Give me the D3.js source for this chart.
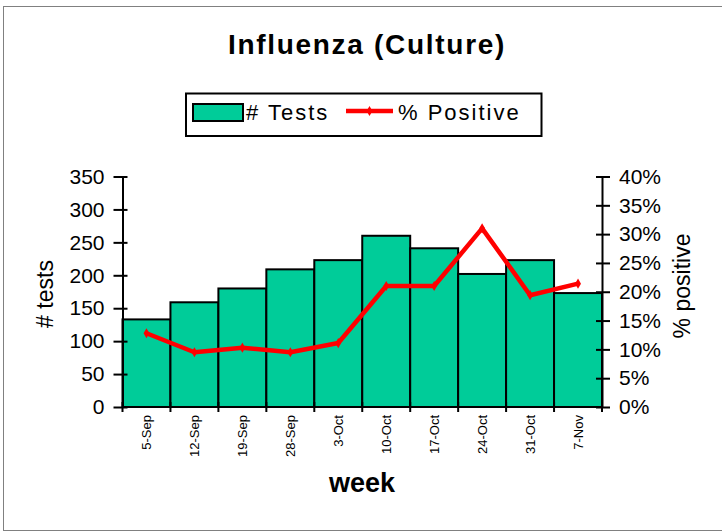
<!DOCTYPE html>
<html>
<head>
<meta charset="utf-8">
<script src="https://cdn.jsdelivr.net/npm/d3@7"></script>
<style>
  body { margin: 0; background: #fff; }
  svg { display: block; font-family: "Liberation Sans", Arial, sans-serif; }
</style>
</head>
<body>
<div id="chart"></div>
<script>
// chart data
let weeks = ["5-Sep", "12-Sep", "19-Sep", "28-Sep", "3-Oct", "10-Oct", "17-Oct", "24-Oct", "31-Oct", "7-Nov"];
let tests = [133, 159, 180, 209, 223, 260, 241, 202, 223, 173];
let pctPositive = [0.128, 0.095, 0.103, 0.095, 0.111, 0.210, 0.210, 0.310, 0.194, 0.214];
let leftTicks = [0, 50, 100, 150, 200, 250, 300, 350];
let rightTicks = [0, 0.05, 0.10, 0.15, 0.20, 0.25, 0.30, 0.35, 0.40];

let width = 722, height = 532;
let margin = {top: 176.5, bottom: 125, left: 122.5, right: 120};

let svg = d3.select("#chart").append("svg")
  .attr("width", width)
  .attr("height", height);

// outer frame
svg.append("rect")
  .attr("x", 3.5).attr("y", 6.5)
  .attr("width", 722).attr("height", 524)
  .attr("fill", "none")
  .attr("stroke", "#808080");

let x = d3.scaleBand().domain(weeks).range([margin.left, width - margin.right]).padding(0);
let yLeft = d3.scaleLinear().domain([0, 350]).range([height - margin.bottom, margin.top]);
let yRight = d3.scaleLinear().domain([0, 0.4]).range([height - margin.bottom, margin.top]);

// title
svg.append("text")
  .attr("x", 367).attr("y", 54)
  .attr("text-anchor", "middle")
  .style("font-size", "28px")
  .style("font-weight", "bold")
  .style("letter-spacing", "1.7px")
  .text("Influenza (Culture)");

// bars
svg.append("g").selectAll("rect")
  .data(tests)
  .enter().append("rect")
  .attr("x", function (d, i) { return x(weeks[i]); })
  .attr("y", function (d) { return yLeft(d); })
  .attr("width", x.bandwidth())
  .attr("height", function (d) { return yLeft(0) - yLeft(d); })
  .attr("fill", "#00CC99")
  .attr("stroke", "#000")
  .attr("stroke-width", 2);

// left axis
let leftAxis = d3.axisLeft(yLeft).tickValues(leftTicks).tickSize(0).tickPadding(18);
let gl = svg.append("g")
  .attr("transform", "translate(" + margin.left + ",0)")
  .call(leftAxis);
gl.select(".domain").attr("stroke", "#000").attr("stroke-width", 2);
gl.selectAll(".tick").append("line")
  .attr("x1", -9).attr("x2", 5)
  .attr("stroke", "#000").attr("stroke-width", 2);
gl.selectAll("text").style("font-size", "21px").attr("fill", "#000");

// right axis
let rightAxis = d3.axisRight(yRight).tickValues(rightTicks).tickSize(0).tickPadding(17)
  .tickFormat(d3.format(".0%"));
let gr = svg.append("g")
  .attr("transform", "translate(" + (width - margin.right) + ",0)")
  .call(rightAxis);
gr.select(".domain").attr("stroke", "#000").attr("stroke-width", 2);
gr.selectAll(".tick").append("line")
  .attr("x1", -6).attr("x2", 8)
  .attr("stroke", "#000").attr("stroke-width", 2);
gr.selectAll("text").style("font-size", "21px").attr("fill", "#000");

// bottom axis
let gx = svg.append("g")
  .attr("transform", "translate(0," + yLeft(0) + ")");
gx.append("line")
  .attr("x1", margin.left).attr("x2", width - margin.right)
  .attr("stroke", "#000").attr("stroke-width", 2);
let edges = weeks.map(function (w) { return x(w); }).concat([x(weeks[weeks.length - 1]) + x.bandwidth()]);
gx.selectAll(".edge")
  .data(edges)
  .enter().append("line")
  .attr("class", "edge")
  .attr("x1", function (d) { return d; })
  .attr("x2", function (d) { return d; })
  .attr("y1", -5).attr("y2", 5)
  .attr("stroke", "#000").attr("stroke-width", 2);
gx.selectAll(".lbl")
  .data(weeks)
  .enter().append("text")
  .attr("class", "lbl")
  .attr("transform", function (d) {
    return "translate(" + (x(d) + x.bandwidth() / 2 + 4.5) + ",8) rotate(-90)";
  })
  .attr("text-anchor", "end")
  .style("font-size", "13px")
  .text(function (d) { return d; });

// axis titles
svg.append("text")
  .attr("x", 362).attr("y", 492)
  .attr("text-anchor", "middle")
  .style("font-size", "27px")
  .style("font-weight", "bold")
  .text("week");

svg.append("text")
  .attr("transform", "translate(53,294) rotate(-90)")
  .attr("text-anchor", "middle")
  .style("font-size", "23px")
  .text("# tests");

svg.append("text")
  .attr("transform", "translate(690,286) rotate(-90)")
  .attr("text-anchor", "middle")
  .style("font-size", "23px")
  .text("% positive");

// % positive line
let line = d3.line()
  .x(function (d, i) { return x(weeks[i]) + x.bandwidth() / 2; })
  .y(function (d) { return yRight(d); });

svg.append("path")
  .datum(pctPositive)
  .attr("d", line)
  .attr("fill", "none")
  .attr("stroke", "#FF0000")
  .attr("stroke-width", 4.5)
  .attr("stroke-linejoin", "round");

let diamond = d3.symbol().type(d3.symbolDiamond).size(30);
svg.append("g").selectAll("path")
  .data(pctPositive)
  .enter().append("path")
  .attr("d", diamond)
  .attr("transform", function (d, i) {
    return "translate(" + (x(weeks[i]) + x.bandwidth() / 2) + "," + yRight(d) + ")";
  })
  .attr("fill", "#FF0000");

// legend
let legend = svg.append("g");
legend.append("rect")
  .attr("x", 186).attr("y", 93.5)
  .attr("width", 355.5).attr("height", 42.5)
  .attr("fill", "#fff")
  .attr("stroke", "#000").attr("stroke-width", 2);
legend.append("rect")
  .attr("x", 193).attr("y", 104)
  .attr("width", 50).attr("height", 17)
  .attr("fill", "#00CC99")
  .attr("stroke", "#000").attr("stroke-width", 2);
legend.append("text")
  .attr("x", 246).attr("y", 120)
  .style("font-size", "22px")
  .style("letter-spacing", "2px")
  .text("# Tests");
legend.append("line")
  .attr("x1", 346).attr("x2", 393)
  .attr("y1", 111).attr("y2", 111)
  .attr("stroke", "#FF0000").attr("stroke-width", 4.5);
legend.append("path")
  .attr("d", diamond)
  .attr("transform", "translate(369.5,111)")
  .attr("fill", "#FF0000");
legend.append("text")
  .attr("x", 398).attr("y", 120)
  .style("font-size", "22px")
  .style("letter-spacing", "2px")
  .text("% Positive");
</script>
</body>
</html>
